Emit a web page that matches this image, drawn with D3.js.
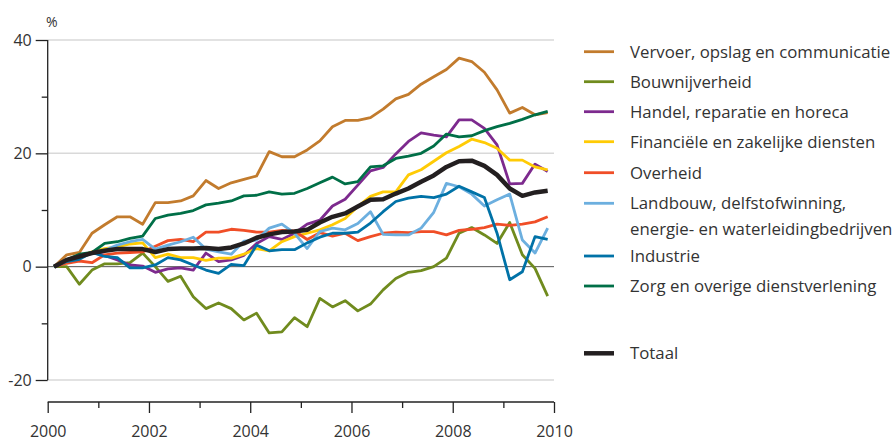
<!DOCTYPE html>
<html>
<head>
<meta charset="utf-8">
<script src="https://cdn.jsdelivr.net/npm/d3@7"></script>
<style>
  body { margin: 0; background: #fff; }
  svg { display: block; font-family: "Open Sans", "Noto Sans", sans-serif; }
  .tick text { fill: #333; }
</style>
</head>
<body>
<svg id="chart" width="896" height="439"></svg>
<script>
// kwartalen 2000 t/m 2009
var years = [2000, 2001, 2002, 2003, 2004, 2005, 2006, 2007, 2008, 2009];
var quarters = [1, 2, 3, 4];

var names = [
  "Vervoer, opslag en communicatie",
  "Bouwnijverheid",
  "Handel, reparatie en horeca",
  "Financiële en zakelijke diensten",
  "Overheid",
  "Landbouw, delfstofwinning,|energie- en waterleidingbedrijven",
  "Industrie",
  "Zorg en overige dienstverlening",
  "Totaal"
];
var colors = ["#c27b2d", "#708b1e", "#7d2a8e", "#ffcb05", "#f04e27", "#6cafdf", "#0072a7", "#006f47", "#231f20"];

var vervoer = [0, 2.1, 2.5, 5.9, 7.4, 8.8, 8.8, 7.5, 11.3, 11.3, 11.6, 12.5, 15.2, 13.8, 14.8, 15.4, 16, 20.3, 19.4, 19.4,
  20.6, 22.2, 24.7, 25.8, 25.8, 26.3, 27.8, 29.6, 30.4, 32.2, 33.5, 34.8, 36.8, 36.2, 34.3, 31.2, 27.1, 28.1, 26.8, 27.2];
var bouw = [0, 0, -3.1, -0.6, 0.5, 0.5, 0.7, 2.4, 0, -2.6, -1.7, -5.3, -7.4, -6.4, -7.4, -9.4, -8.2, -11.7, -11.5, -9.0,
  -10.6, -5.6, -7.1, -6.0, -7.8, -6.6, -4.1, -2.1, -1.0, -0.7, 0, 1.5, 5.9, 6.9, 5.6, 4.1, 7.8, 2.1, -0.3, -5.2];
var handel = [0, 1.0, 1.8, 2.5, 2.0, 1.2, 0.3, 0.1, -1.0, -0.4, -0.2, -0.6, 2.4, 0.9, 1.2, 2.0, 4.1, 5.3, 4.8, 5.9,
  7.5, 8.2, 10.7, 11.9, 14.4, 16.9, 17.5, 19.9, 22.1, 23.6, 23.2, 22.9, 25.9, 25.9, 24.4, 21.5, 14.6, 14.7, 18.1, 16.8];
var financieel = [0, 1.0, 1.8, 2.6, 3.2, 3.5, 4.0, 4.2, 1.6, 2.2, 1.6, 1.6, 1.1, 1.5, 1.5, 2.2, 3.2, 2.8, 4.4, 5.3,
  5.9, 6.5, 7.4, 8.5, 10.6, 12.4, 13.2, 13.2, 16.2, 17.1, 18.6, 20.1, 21.2, 22.5, 21.9, 20.9, 18.8, 18.8, 17.6, 17.1];
var overheid = [0, 0.6, 1.0, 0.7, 2.1, 2.4, 2.5, 2.6, 3.6, 4.6, 4.8, 4.4, 6.1, 6.1, 6.6, 6.4, 6.1, 6.1, 6.4, 6.3,
  4.8, 6.0, 5.4, 5.9, 4.6, 5.3, 5.9, 6.1, 6.0, 6.2, 6.2, 5.6, 6.4, 6.6, 6.9, 7.5, 7.3, 7.5, 7.9, 8.8];
var landbouw = [0, 1.2, 1.9, 2.5, 2.9, 3.8, 4.4, 4.8, 3.1, 3.8, 4.4, 5.2, 3.1, 2.6, 2.2, 4.5, 4.7, 6.8, 7.5, 5.9,
  3.2, 6.2, 6.8, 6.5, 7.6, 9.7, 5.7, 5.6, 5.6, 6.8, 9.6, 14.7, 14.1, 12.8, 10.7, 11.8, 12.8, 4.7, 2.4, 6.8];
var industrie = [0, 0.9, 1.3, 2.5, 1.8, 1.6, -0.2, -0.2, 0.3, 1.6, 1.2, 0.3, -0.6, -1.2, 0.4, 0.2, 3.8, 2.8, 3.0, 3.0,
  4.2, 5.2, 5.9, 5.9, 6.1, 7.7, 9.7, 11.5, 12.1, 12.4, 12.2, 12.8, 14.2, 13.2, 12.2, 5.9, -2.3, -0.9, 5.3, 4.8];
var zorg = [0, 1.2, 2.2, 2.5, 4.1, 4.4, 5.0, 5.4, 8.5, 9.1, 9.4, 9.9, 10.9, 11.2, 11.6, 12.5, 12.6, 13.2, 12.8, 12.95,
  13.8, 14.8, 15.8, 14.6, 15.0, 17.6, 17.8, 19.1, 19.5, 20.0, 21.3, 23.4, 22.9, 23.1, 24.0, 24.7, 25.3, 26.0, 26.8, 27.4];
var totaal = [0, 1.2, 1.8, 2.4, 2.8, 3.1, 3.1, 3.1, 2.6, 3.1, 3.2, 3.2, 3.3, 3.1, 3.4, 4.1, 5.1, 5.7, 6.1, 6.2,
  6.5, 7.8, 8.8, 9.4, 10.6, 11.8, 11.9, 12.9, 13.8, 15.0, 16.1, 17.6, 18.6, 18.7, 17.8, 16.2, 13.8, 12.5, 13.1, 13.4];

var yTicks = [-20, -10, 0, 10, 20, 30, 40];
var yLabels = [-20, 0, 20, 40];
var xTicks = [2000, 2001, 2002, 2003, 2004, 2005, 2006, 2007, 2008, 2009, 2010];
var xLabels = [2000, 2002, 2004, 2006, 2008, 2010];

var series = [vervoer, bouw, handel, financieel, overheid, landbouw, industrie, zorg, totaal];

// tijdstip per kwartaal: midden van het kwartaal
var periods = [];
years.forEach(function(yr) {
  quarters.forEach(function(q) { periods.push(yr + (q - 0.5) / 4); });
});

var svg = d3.select("#chart");
var x = d3.scaleLinear().domain([2000, 2010]).range([47.7, 554]);
var y = d3.scaleLinear().domain([-20, 40]).range([380, 40]);

// rasterlijnen
svg.append("g").selectAll("line").data([-20, 20, 40]).enter().append("line")
  .attr("x1", x(2000)).attr("x2", x(2010))
  .attr("y1", function(d) { return y(d); }).attr("y2", function(d) { return y(d); })
  .attr("stroke", "#d9d9d9").attr("stroke-width", 1.5);
svg.append("line")
  .attr("x1", x(2000)).attr("x2", x(2010)).attr("y1", y(0)).attr("y2", y(0))
  .attr("stroke", "#555").attr("stroke-width", 1);

// y-as
var yAxis = svg.append("g").attr("transform", "translate(" + x(2000) + ",0)")
  .call(d3.axisLeft(y).tickValues(yTicks).tickSize(12).tickPadding(4)
    .tickFormat(function(d) { return yLabels.indexOf(d) >= 0 ? d : ""; }));
yAxis.select(".domain").attr("d", "M0," + y(40) + "V" + y(-20)).attr("stroke", "#222").attr("stroke-width", 1.3);
yAxis.selectAll(".tick line").attr("stroke", "#222").attr("stroke-width", 1.3)
  .attr("x2", function(d) { return yLabels.indexOf(d) >= 0 ? -12 : -6; });
yAxis.selectAll(".tick text").attr("font-size", 16).attr("font-family", "Open Sans, sans-serif");

svg.append("text").attr("x", 46).attr("y", 27).attr("font-size", 14).attr("fill", "#333").text("%");

// x-as
var xAxis = svg.append("g").attr("transform", "translate(0,402)")
  .call(d3.axisBottom(x).tickValues(xTicks).tickSize(11).tickPadding(13)
    .tickFormat(function(d) { return xLabels.indexOf(d) >= 0 ? d : ""; }));
xAxis.select(".domain").attr("d", "M" + x(2000) + ",0H" + x(2010)).attr("stroke", "#222").attr("stroke-width", 1.3);
xAxis.selectAll(".tick line").attr("stroke", "#222").attr("stroke-width", 1.3)
  .attr("y2", function(d) { return xLabels.indexOf(d) >= 0 ? 11 : 6; });
xAxis.selectAll(".tick text").attr("font-size", 16).attr("font-family", "Open Sans, sans-serif");

// lijnen
var line = d3.line()
  .x(function(d, i) { return x(periods[i]); })
  .y(function(d) { return y(d); });

svg.append("g").selectAll("path").data(series).enter().append("path")
  .attr("d", line)
  .attr("fill", "none")
  .attr("stroke", function(d, i) { return colors[i]; })
  .attr("stroke-width", function(d, i) { return i === 8 ? 4.5 : 2.8; })
  .attr("stroke-linejoin", "round");

// legenda
var legendY = [51.7, 81.7, 111.7, 141.7, 172.7, 203.3, 256, 286, 353.3];
var lg = svg.append("g").selectAll("g").data(names).enter().append("g")
  .attr("transform", function(d, i) { return "translate(584," + legendY[i] + ")"; });
lg.append("line").attr("x1", 0).attr("x2", 30)
  .attr("stroke", function(d, i) { return colors[i]; })
  .attr("stroke-width", function(d, i) { return i === 8 ? 4.5 : 2.8; });
lg.each(function(d) {
  var parts = d.split("|");
  var t = d3.select(this).append("text").attr("x", 46).attr("y", 6)
    .attr("font-size", 16.8).attr("fill", "#333");
  parts.forEach(function(p, k) {
    t.append("tspan").attr("x", 46).attr("dy", k === 0 ? 0 : 26).text(p);
  });
});
</script>
</body>
</html>
